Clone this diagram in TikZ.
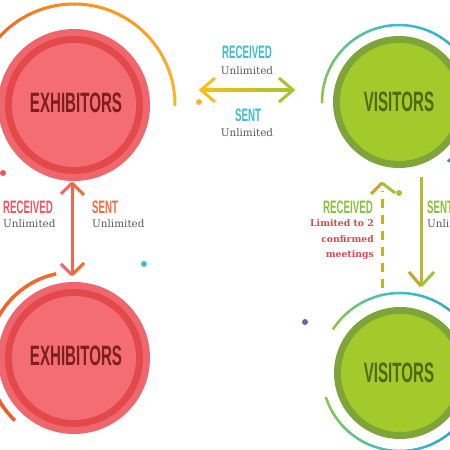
\documentclass[tikz,border=0pt]{standalone}
\usepackage{fontspec}
\newfontfamily\condfont[FakeStretch=0.54]{Liberation Sans}
\newfontfamily\slabfont{DejaVu Serif}
\usetikzlibrary{calc}
\definecolor{exlight}{HTML}{EF676C}
\definecolor{exdark}{HTML}{E3484B}
\definecolor{exfill}{HTML}{F36D72}
\definecolor{extxt}{HTML}{7B1F1F}
\definecolor{visdark}{HTML}{7DA53A}
\definecolor{visfill}{HTML}{A2CA2B}
\definecolor{vistxt}{HTML}{4E6A14}
\definecolor{cyanlab}{HTML}{3CBFC9}
\definecolor{greytxt}{HTML}{5B5B5B}
\definecolor{redlab}{HTML}{F05560}
\definecolor{orglab}{HTML}{F26A3D}
\definecolor{grnlab}{HTML}{8CC03C}
\definecolor{limred}{HTML}{DB4A4F}
\definecolor{ored}{HTML}{F15A2B}
\definecolor{orng}{HTML}{F7921E}
\definecolor{yorng}{HTML}{FBB52C}
\definecolor{ylw}{HTML}{F5BE1E}
\definecolor{grn}{HTML}{A3C62C}
\definecolor{agrn}{HTML}{8CC63F}
\definecolor{acyan}{HTML}{3BBFCB}
\definecolor{ablue}{HTML}{3A86C4}
\definecolor{pinkarm}{HTML}{F0666E}
\definecolor{orgarm}{HTML}{F36A2A}
\definecolor{redline}{HTML}{F26649}
\definecolor{olive}{HTML}{C5B420}
\definecolor{olive2}{HTML}{B9B92A}
\definecolor{goldarm}{HTML}{C9A227}
\definecolor{grnarm}{HTML}{9DC53A}
\definecolor{purp}{HTML}{7A5DAA}
\newcommand\gradarc[7]{%
 \foreach \k in {0,...,29}{%
  \pgfmathsetmacro\aa{#3+(#4-#3)*\k/30}%
  \pgfmathsetmacro\bb{#3+(#4-#3)*(\k+1.15)/30}%
  \pgfmathsetmacro\pp{100-100*\k/29}%
  \draw[line width=#7,color=#5!\pp!#6] ([shift={(\aa:#2)}]#1) arc[start angle=\aa,end angle=\bb,radius=#2];
 }}
\tikzset{
 extext/.style={inner sep=0,text=extxt,font=\condfont\bfseries\fontsize{28}{28}\selectfont},
 vistext/.style={inner sep=0,text=vistxt,font=\condfont\bfseries\fontsize{28}{28}\selectfont},
 headlab/.style={inner sep=0,font=\condfont\bfseries\fontsize{18}{18}\selectfont},
 sublab/.style={inner sep=0,text=greytxt,font=\slabfont\fontsize{10.4}{12}\selectfont},
 armline/.style={line width=3pt},
 dotmark/.style={circle,inner sep=0,minimum size=6pt}
}
\begin{document}
\begin{tikzpicture}[x=1pt,y=1pt]
\clip (0,0) rectangle (450,450);
\fill[white] (0,0) rectangle (450,450);
% centres
\coordinate (e1) at (74,345);
\coordinate (e2) at (74,92);
\coordinate (v1) at (399,348);
\coordinate (v2) at (400,77);
% arcs
\gradarc{e1}{101}{150}{90}{ored}{orng}{3}
\gradarc{e1}{101}{90}{0}{orng}{yorng}{3}
\gradarc{v1}{77}{181}{90}{agrn}{acyan}{2.5}
\gradarc{v1}{77}{90}{-50}{acyan}{ablue}{2.5}
\gradarc{e2}{86}{102}{226}{orgarm}{ored}{3.5}
\gradarc{v2}{80}{147}{90}{agrn}{acyan}{2.5}
\gradarc{v2}{80}{90}{-10}{acyan}{ablue}{2.5}
\gradarc{v2}{78}{198}{270}{agrn}{acyan}{2.5}
\gradarc{v2}{78}{270}{350}{acyan}{ablue}{2.5}
% exhibitor circles
\foreach \c in {e1,e2}{
 \fill[exlight] (\c) circle[radius=76];
 \fill[exdark] (\c) circle[radius=69];
 \fill[exfill] (\c) circle[radius=62];
}
\node[extext] (ex1) at (76,347) {EXHIBITORS};
\node[extext] (ex2) at (76,94) {EXHIBITORS};
% visitor circles
\foreach \c in {v1,v2}{
 \fill[visdark] (\c) circle[radius=66];
 \fill[visfill] (\c) circle[radius=59];
}
\node[vistext] (vi1) at (399,348) {VISITORS};
\node[vistext] (vi2) at (399,77) {VISITORS};
% dots
\node[dotmark,fill=yorng] (d1) at (199,348) {};
\node[dotmark,fill=redlab] (d2) at (3,277) {};
\node[dotmark,fill=cyanlab] (d3) at (144,186) {};
\node[dotmark,fill=purp] (d4) at (305,128) {};
\node[dotmark,fill=grnarm] (d5) at (399,257) {};
% horizontal arrow
\coordinate (ha) at (201,360);
\coordinate (hb) at (293,360);
\shade[left color=ylw,right color=grn] ($(ha)+(2,-1.5)$) rectangle ($(hb)+(-2,1.5)$);
\draw[armline,ylw] ($(ha)+(14,12)$) -- (ha) -- ($(ha)+(14,-12)$);
\draw[armline,grn] ($(hb)+(-14,12)$) -- (hb) -- ($(hb)+(-14,-12)$);
\node[headlab,text=cyanlab] (r1) at (247,398) {RECEIVED};
\node[sublab] (u1) at (247,379) {Unlimited};
\node[headlab,text=cyanlab] (s1) at (248,335) {SENT};
\node[sublab] (u2) at (247,317) {Unlimited};
% left vertical arrow
\coordinate (la) at (72,267);
\coordinate (lb) at (72,175);
\draw[line width=3pt,redline] ($(la)+(0,-2)$) -- ($(lb)+(0,2)$);
\draw[armline,pinkarm] ($(la)+(-11,-11)$) -- (la);
\draw[armline,orgarm] (la) -- ($(la)+(12,-12)$);
\draw[armline,pinkarm] ($(lb)+(-11,11)$) -- (lb);
\draw[armline,orgarm] (lb) -- ($(lb)+(12,12)$);
\node[headlab,text=redlab,anchor=west] (r2) at (3,243) {RECEIVED};
\node[sublab,anchor=west] (u3) at (3,226) {Unlimited};
\node[headlab,text=orglab,anchor=west] (s2) at (92,243) {SENT};
\node[sublab,anchor=west] (u4) at (92,226) {Unlimited};
% right dashed arrow (up)
\coordinate (ra) at (382,162);
\coordinate (rb) at (382,267);
\draw[line width=3pt,olive,dash pattern=on 9pt off 7pt] (ra) -- ($(rb)+(0,-8)$);
\draw[armline,goldarm] ($(rb)+(-11,-11)$) -- (rb);
\draw[armline,grnarm] (rb) -- ($(rb)+(13,-10)$);
\node[headlab,text=grnlab,anchor=east] (r3) at (373,243) {RECEIVED};
\node[inner sep=0,text=limred,anchor=east,align=right,font=\slabfont\bfseries\fontsize{9.3}{15.5}\selectfont] (lim) at (374,210) {Limited to 2\\confirmed\\meetings};
% right solid arrow (down)
\coordinate (sa) at (421,273);
\coordinate (sb) at (421,164);
\draw[line width=3pt,olive2] (sa) -- ($(sb)+(0,2)$);
\draw[armline,goldarm] ($(sb)+(-12,14)$) -- (sb);
\draw[armline,grnarm] (sb) -- ($(sb)+(13,14)$);
\node[headlab,text=grnlab,anchor=west] (s3) at (427,243) {SENT};
\node[sublab,anchor=west] (u5) at (427,226) {Unlimited};
\end{tikzpicture}
\end{document}
